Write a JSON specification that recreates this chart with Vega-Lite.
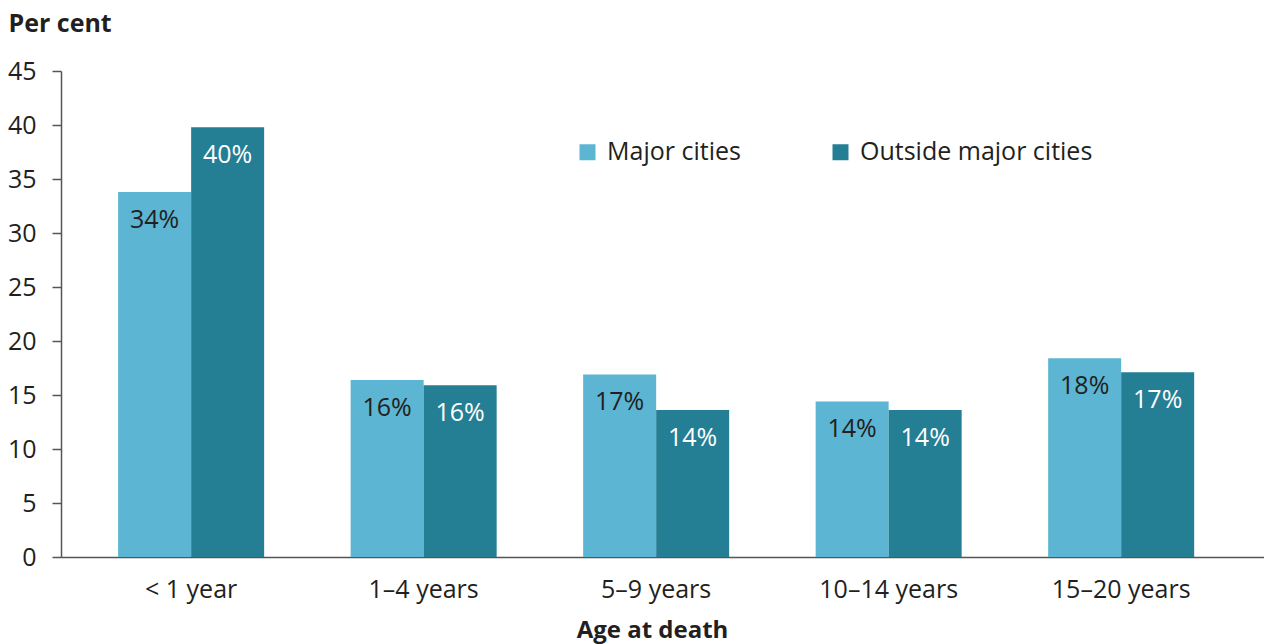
{
  "$schema": "https://vega.github.io/schema/vega-lite/v6.json",
  "autosize": {"type": "none"},
  "padding": {"left": 61, "top": 71, "right": 0, "bottom": 87},
  "width": 1203,
  "height": 486,
  "config": {
    "font": "Open Sans",
    "view": {"stroke": null},
    "axis": {"labelFont": "Open Sans", "titleFont": "Open Sans", "labelColor": "#231f20", "titleColor": "#231f20"}
  },
  "data": {
    "values": [
      {"age": "< 1 year", "group": "Major cities", "value": 33.8, "label": "34%"},
      {"age": "< 1 year", "group": "Outside major cities", "value": 39.8, "label": "40%"},
      {"age": "1–4 years", "group": "Major cities", "value": 16.4, "label": "16%"},
      {"age": "1–4 years", "group": "Outside major cities", "value": 15.9, "label": "16%"},
      {"age": "5–9 years", "group": "Major cities", "value": 16.9, "label": "17%"},
      {"age": "5–9 years", "group": "Outside major cities", "value": 13.6, "label": "14%"},
      {"age": "10–14 years", "group": "Major cities", "value": 14.4, "label": "14%"},
      {"age": "10–14 years", "group": "Outside major cities", "value": 13.6, "label": "14%"},
      {"age": "15–20 years", "group": "Major cities", "value": 18.4, "label": "18%"},
      {"age": "15–20 years", "group": "Outside major cities", "value": 17.1, "label": "17%"}
    ]
  },
  "encoding": {
    "x": {
      "field": "age",
      "type": "nominal",
      "sort": ["< 1 year", "1–4 years", "5–9 years", "10–14 years", "15–20 years"],
      "scale": {"paddingInner": 0.372, "paddingOuter": 0.273, "align": 0.45},
      "axis": {
        "title": "Age at death",
        "titleFontSize": 24,
        "titleFontWeight": "bold",
        "titleX": 591,
        "titleY": 80,
        "titleAlign": "center",
        "titleBaseline": "alphabetic",
        "titleAnchor": null,
        "labelAngle": 0,
        "labelFontSize": 25,
        "labelBaseline": "alphabetic",
        "labelPadding": 40,
        "ticks": false,
        "tickSize": 0,
        "domainColor": "#555555",
        "domainWidth": 1.5
      }
    },
    "xOffset": {
      "field": "group",
      "type": "nominal",
      "sort": ["Major cities", "Outside major cities"],
      "scale": {"paddingInner": 0, "paddingOuter": 0}
    },
    "y": {
      "field": "value",
      "type": "quantitative",
      "scale": {"domain": [0, 45], "nice": false},
      "axis": {
        "values": [0, 5, 10, 15, 20, 25, 30, 35, 40, 45],
        "title": "Per cent",
        "titleFontSize": 25,
        "titleFontWeight": "bold",
        "titleAngle": 0,
        "titleX": -53,
        "titleY": -40,
        "titleAlign": "left",
        "titleBaseline": "alphabetic",
        "titleAnchor": null,
        "labelFontSize": 25,
        "labelPadding": 16,
        "tickSize": 9,
        "tickColor": "#555555",
        "tickWidth": 1.5,
        "domainColor": "#555555",
        "domainWidth": 1.5,
        "grid": false
      }
    }
  },
  "layer": [
    {
      "mark": {"type": "bar"},
      "encoding": {
        "color": {
          "field": "group",
          "type": "nominal",
          "scale": {"domain": ["Major cities", "Outside major cities"], "range": ["#5bb5d3", "#247e94"]},
          "legend": {
            "title": null,
            "orient": "none",
            "direction": "horizontal",
            "legendX": 514,
            "legendY": 68.5,
            "symbolType": "square",
            "symbolSize": 256,
            "symbolStrokeWidth": 0,
            "labelFontSize": 25,
            "labelColor": "#231f20",
            "labelFont": "Open Sans",
            "labelOffset": 7,
            "columnPadding": 87,
            "labelLimit": 400
          }
        }
      }
    },
    {
      "mark": {"type": "text", "baseline": "middle", "dy": 28, "fontSize": 25, "font": "Open Sans"},
      "encoding": {
        "text": {"field": "label"},
        "color": {
          "condition": {"test": "datum.group === 'Major cities'", "value": "#231f20"},
          "value": "#ffffff"
        }
      }
    }
  ]
}
